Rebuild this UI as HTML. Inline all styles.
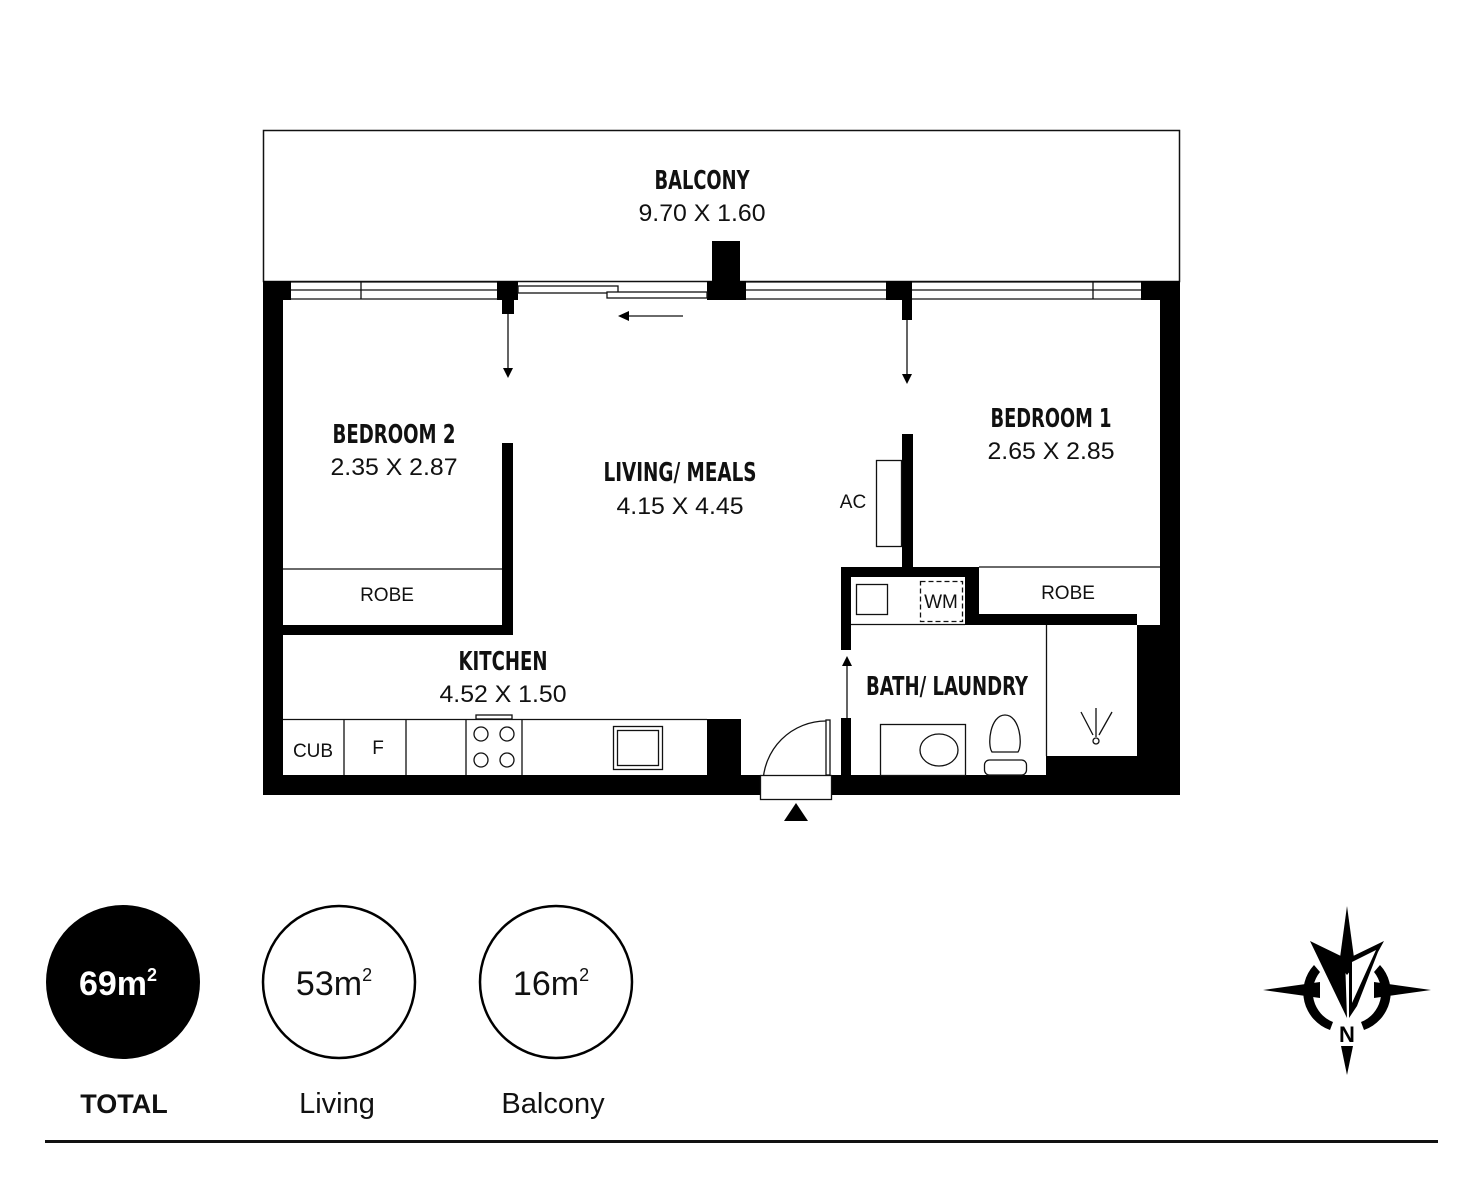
<!DOCTYPE html>
<html><head><meta charset="utf-8"><style>
html,body{margin:0;padding:0;background:#fff;}
svg{display:block;}
.h{font-family:"Liberation Sans Narrow","DejaVu Sans Condensed","Liberation Sans",sans-serif;font-weight:bold;font-size:26px;fill:#111;}
.d{font-family:"Liberation Sans","DejaVu Sans",sans-serif;font-size:24px;fill:#111;}
.s{font-family:"Liberation Sans","DejaVu Sans",sans-serif;font-size:19px;fill:#111;}
</style></head><body>
<svg width="1472" height="1200" viewBox="0 0 1472 1200" xmlns="http://www.w3.org/2000/svg">
<g fill="none" stroke="#111" stroke-width="1.5">
<rect x="263.5" y="130.5" width="916" height="151"/>
</g>
<g fill="#000">
<rect x="263" y="281" width="28" height="19"/>
<rect x="263" y="281" width="20" height="514"/>
<rect x="263" y="775" width="497" height="20"/>
<rect x="830" y="775" width="350" height="20"/>
<rect x="1160" y="281" width="20" height="514"/>
<rect x="1141" y="281" width="39" height="19"/>
<rect x="1137" y="625" width="43" height="170"/>
<rect x="497" y="281" width="21" height="19"/>
<rect x="502" y="300" width="12" height="14"/>
<rect x="707" y="281" width="39" height="19"/>
<rect x="712" y="241" width="28" height="40"/>
<rect x="886" y="281" width="26" height="19"/>
<rect x="902" y="300" width="10" height="20"/>
<rect x="502" y="443" width="11" height="192"/>
<rect x="283" y="625" width="230" height="10"/>
<rect x="707" y="719" width="34" height="56"/>
<rect x="902" y="434" width="11" height="133"/>
<rect x="841" y="567" width="138" height="10"/>
<rect x="841" y="567" width="10" height="83"/>
<rect x="841" y="718" width="10" height="57"/>
<rect x="965" y="577" width="14" height="48"/>
<rect x="965" y="614" width="172" height="11"/>
<rect x="1046" y="756" width="91" height="19"/>
<polygon points="784,821 808,821 796,803"/>
</g>
<g fill="none" stroke="#111" stroke-width="1.3">
<line x1="291" y1="290" x2="497" y2="290"/><line x1="291" y1="282" x2="497" y2="282"/><line x1="291" y1="299" x2="497" y2="299"/>
<line x1="361" y1="282" x2="361" y2="299"/>
<line x1="746" y1="290" x2="886" y2="290"/><line x1="746" y1="282" x2="886" y2="282"/><line x1="746" y1="299" x2="886" y2="299"/>
<line x1="912" y1="290" x2="1141" y2="290"/><line x1="912" y1="282" x2="1141" y2="282"/><line x1="912" y1="299" x2="1141" y2="299"/>
<line x1="1093" y1="282" x2="1093" y2="299"/>
<rect x="518" y="286" width="100" height="7" fill="#fff"/>
<rect x="607" y="292" width="100" height="6" fill="#fff"/>
<line x1="508" y1="314" x2="508" y2="370"/>
<line x1="907" y1="320" x2="907" y2="376"/>
<line x1="683" y1="316" x2="628" y2="316"/>
<line x1="847" y1="665" x2="847" y2="718"/>
<line x1="283" y1="569" x2="502" y2="569"/>
<line x1="979" y1="567" x2="1160" y2="567"/>
<rect x="876.5" y="460.5" width="25" height="86"/>
<line x1="283" y1="719.5" x2="707" y2="719.5"/>
<line x1="344" y1="719" x2="344" y2="775"/><line x1="406" y1="719" x2="406" y2="775"/>
<line x1="466" y1="719" x2="466" y2="775"/><line x1="522" y1="719" x2="522" y2="775"/>
<rect x="476" y="715" width="36" height="4"/>
<circle cx="481" cy="734" r="7"/><circle cx="507" cy="734" r="7"/>
<circle cx="481" cy="760" r="7"/><circle cx="507" cy="760" r="7"/>
<rect x="613.5" y="726.5" width="49" height="43"/><rect x="617.5" y="730.5" width="41" height="35"/>
<path d="M826,721 A63,63 0 0 0 763,784"/>
<rect x="826" y="720" width="4" height="55" fill="#fff"/>
<rect x="760.5" y="775.5" width="71" height="24" fill="#fff"/>
<rect x="856.5" y="584.5" width="31" height="30"/>
<rect x="920.5" y="581.5" width="42" height="40" stroke-dasharray="5,3"/>
<line x1="851" y1="624.5" x2="965" y2="624.5"/>
<line x1="1046.5" y1="625" x2="1046.5" y2="756"/>
<line x1="1096" y1="708" x2="1096" y2="737"/>
<line x1="1081" y1="712" x2="1093" y2="735"/><line x1="1112" y1="712" x2="1099" y2="735"/>
<circle cx="1096" cy="741" r="3"/>
<rect x="880.5" y="724.5" width="85" height="51"/>
<ellipse cx="939" cy="750" rx="19" ry="16"/>
<path d="M1005,715 C990,715 987,745 992,752 L1018,752 C1023,745 1020,715 1005,715 Z"/>
<rect x="984.5" y="760" width="42" height="15" rx="5"/>
</g>
<g fill="#000">
<polygon points="508,378 503,368 513,368"/>
<polygon points="907,384 902,374 912,374"/>
<polygon points="618,316 629,311 629,321"/>
<polygon points="847,656 842,666 852,666"/>
</g>
<g text-anchor="middle">
<text class="h" x="702" y="189" textLength="95" lengthAdjust="spacingAndGlyphs">BALCONY</text>
<text class="d" x="702" y="221" textLength="127" lengthAdjust="spacingAndGlyphs">9.70 X 1.60</text>
<text class="h" x="394" y="443" textLength="123" lengthAdjust="spacingAndGlyphs">BEDROOM 2</text>
<text class="d" x="394" y="475" textLength="127" lengthAdjust="spacingAndGlyphs">2.35 X 2.87</text>
<text class="h" x="680" y="481" textLength="153" lengthAdjust="spacingAndGlyphs">LIVING/ MEALS</text>
<text class="d" x="680" y="514" textLength="127" lengthAdjust="spacingAndGlyphs">4.15 X 4.45</text>
<text class="h" x="1051" y="427" textLength="121" lengthAdjust="spacingAndGlyphs">BEDROOM 1</text>
<text class="d" x="1051" y="459" textLength="127" lengthAdjust="spacingAndGlyphs">2.65 X 2.85</text>
<text class="h" x="503" y="670" textLength="89" lengthAdjust="spacingAndGlyphs">KITCHEN</text>
<text class="d" x="503" y="702" textLength="127" lengthAdjust="spacingAndGlyphs">4.52 X 1.50</text>
<text class="h" x="947" y="695" textLength="162" lengthAdjust="spacingAndGlyphs">BATH/ LAUNDRY</text>
<text class="s" x="387" y="601">ROBE</text>
<text class="s" x="1068" y="599">ROBE</text>
<text class="s" x="853" y="508">AC</text>
<text class="s" x="313" y="757">CUB</text>
<text class="s" x="378" y="754">F</text>
<text class="s" x="941" y="608">WM</text>
</g>
<circle cx="123" cy="982" r="77" fill="#000"/>
<circle cx="339" cy="982" r="76" fill="none" stroke="#000" stroke-width="2.5"/>
<circle cx="556" cy="982" r="76" fill="none" stroke="#000" stroke-width="2.5"/>
<g font-family="Liberation Sans, DejaVu Sans, sans-serif" text-anchor="middle">
<text x="118" y="995" font-size="34" font-weight="bold" fill="#fff">69m<tspan font-size="18" dy="-14">2</tspan></text>
<text x="334" y="995" font-size="34" fill="#111">53m<tspan font-size="18" dy="-14">2</tspan></text>
<text x="551" y="995" font-size="34" fill="#111">16m<tspan font-size="18" dy="-14">2</tspan></text>
<text x="124" y="1113" font-size="27" font-weight="bold" fill="#111">TOTAL</text>
<text x="337" y="1113" font-size="29" fill="#111">Living</text>
<text x="553" y="1113" font-size="29" fill="#111">Balcony</text>
</g>
<rect x="45" y="1140" width="1393" height="3" fill="#111"/>
<g fill="#000">
<polygon points="1347,906 1355,965 1347,975 1339,965"/>
<polygon points="1347,1075 1353,1046 1341,1046"/>
<polygon points="1263,990 1320,982 1320,998"/>
<polygon points="1431,990 1374,982 1374,998"/>
<path d="M1314,965 A40,40 0 0 0 1330,1030 L1333,1022 A32,32 0 0 1 1320,972 Z"/>
<path d="M1380,965 A40,40 0 0 1 1364,1030 L1361,1022 A32,32 0 0 0 1374,972 Z"/>
<polygon points="1310,941 1345,958 1347,1018"/>
<polygon points="1384,941 1349,958 1349,1018 1357,1006 1378,952"/>
</g>
<polygon points="1352,962 1376,950 1352,1003" fill="#fff"/>
<text x="1347" y="1042" font-family="Liberation Sans, sans-serif" font-size="22" font-weight="bold" text-anchor="middle" fill="#000">N</text>
</svg>
</body></html>
